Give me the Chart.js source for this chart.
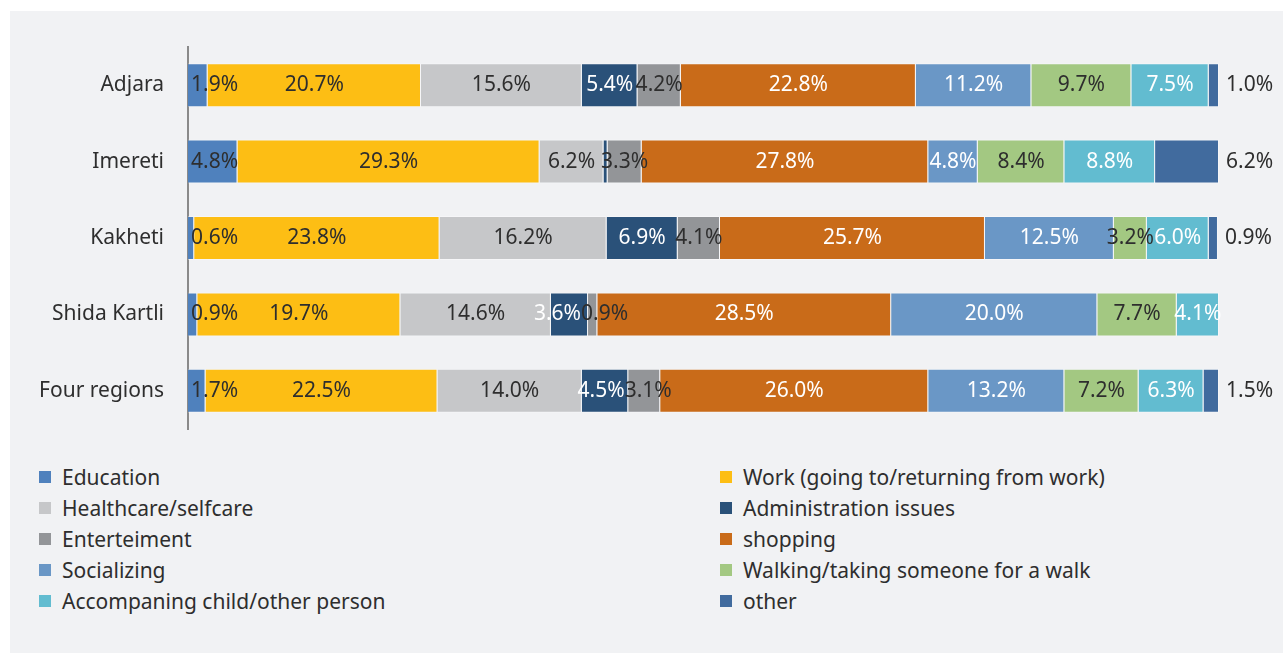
<!DOCTYPE html>
<html>
<head>
<meta charset="utf-8">
<script src="https://cdn.jsdelivr.net/npm/chart.js@4.4.1/dist/chart.umd.min.js"></script>
<style>
  html, body { margin: 0; padding: 0; background: #ffffff; }
  body { width: 1283px; height: 653px; position: relative; overflow: hidden; font-family: "Noto Sans", sans-serif; }
  #panel { position: absolute; left: 10px; top: 11px; right: 0; bottom: 0; background: #f1f2f4; }
  #chartBox { position: absolute; left: 10px; top: 11px; width: 1273px; height: 440px; }
  #legend { position: absolute; left: 39px; top: 461px; display: grid; grid-template-columns: 681px auto; grid-auto-rows: 31px; }
  .item { display: flex; align-items: center; font-size: 21px; color: #2e2e2e; white-space: nowrap; }
  .swatch { width: 12px; height: 12px; margin-right: 11px; flex: none; }
</style>
</head>
<body>
<div id="panel"></div>
<div id="chartBox"><canvas id="chart"></canvas></div>
<div id="legend"></div>
<script>
const categories = ['Adjara', 'Imereti', 'Kakheti', 'Shida Kartli', 'Four regions'];

const seriesNames = [
  'Education',
  'Work (going to/returning from work)',
  'Healthcare/selfcare',
  'Administration issues',
  'Enterteiment',
  'shopping',
  'Socializing',
  'Walking/taking someone for a walk',
  'Accompaning child/other person',
  'other'
];

// shares in %, one value per region
const education      = [1.9, 4.8, 0.6, 0.9, 1.7];
const work           = [20.7, 29.3, 23.8, 19.7, 22.5];
const healthcare     = [15.6, 6.2, 16.2, 14.6, 14.0];
const administration = [5.4, 0.4, 6.9, 3.6, 4.5];
const entertainment  = [4.2, 3.3, 4.1, 0.9, 3.1];
const shopping       = [22.8, 27.8, 25.7, 28.5, 26.0];
const socializing    = [11.2, 4.8, 12.5, 20.0, 13.2];
const walking        = [9.7, 8.4, 3.2, 7.7, 7.2];
const accompanying   = [7.5, 8.8, 6.0, 4.1, 6.3];
const other          = [1.0, 6.2, 0.9, 0, 1.5];

const seriesValues = [education, work, healthcare, administration, entertainment,
  shopping, socializing, walking, accompanying, other];

const colors = ['#4f81bd', '#fdbe14', '#c6c7c9', '#2a5179', '#939598',
  '#c96b19', '#6a97c6', '#a3c882', '#62bcd0', '#416b9e'];
const labelColors = ['#2e2e2e', '#2e2e2e', '#2e2e2e', '#ffffff', '#2e2e2e',
  '#ffffff', '#ffffff', '#2e2e2e', '#ffffff', '#2e2e2e'];

const FONT = '"Noto Sans", sans-serif';

// percent labels inside the segments, nudged apart when they collide
const segmentLabels = {
  id: 'segmentLabels',
  afterDatasetsDraw(chart) {
    const ctx = chart.ctx;
    const area = chart.chartArea;
    ctx.save();
    ctx.font = '21px ' + FONT;
    ctx.textBaseline = 'middle';
    ctx.textAlign = 'left';
    categories.forEach((cat, i) => {
      const boxes = [];
      chart.data.datasets.forEach((ds, d) => {
        const v = ds.data[i];
        if (!v || v < 0.5) return;
        const bar = chart.getDatasetMeta(d).data[i];
        const text = v.toFixed(1) + '%';
        const w = ctx.measureText(text).width;
        if (d === seriesValues.length - 1) {
          boxes.push({ text, left: bar.x + 7, w, y: bar.y, color: labelColors[d], fixed: true });
          return;
        }
        let left = (bar.base + bar.x) / 2 - w / 2;
        if (left < area.left + 3) left = area.left + 3;
        const prev = boxes[boxes.length - 1];
        if (prev && !prev.fixed && left < prev.left + prev.w) {
          const overlap = prev.left + prev.w - left;
          if (prev.left - overlap / 2 >= area.left) {
            prev.left -= overlap / 2;
            left += overlap / 2;
          } else {
            left += overlap;
          }
        }
        boxes.push({ text, left, w, y: bar.y, color: labelColors[d] });
      });
      boxes.forEach(b => {
        ctx.fillStyle = b.color;
        ctx.fillText(b.text, b.left, b.y);
      });
    });
    ctx.restore();
  }
};

const datasets = seriesNames.map((name, k) => ({
  label: name,
  data: seriesValues[k],
  backgroundColor: colors[k],
  borderColor: 'rgba(255,255,255,0.35)',
  borderWidth: 1,
  categoryPercentage: 1,
  barPercentage: 0.576
}));

new Chart(document.getElementById('chart'), {
  type: 'bar',
  data: { labels: categories, datasets },
  options: {
    indexAxis: 'y',
    responsive: true,
    maintainAspectRatio: false,
    animation: false,
    layout: { padding: { top: 36, right: 64, bottom: 22, left: 0 } },
    plugins: {
      legend: { display: false },
      tooltip: { enabled: false }
    },
    scales: {
      x: { stacked: true, display: false, min: 0, max: 100 },
      y: {
        stacked: true,
        grid: { display: false },
        border: { display: true, color: '#8a8a8a', width: 2 },
        ticks: { color: '#2e2e2e', padding: 16, font: { family: FONT, size: 21 } },
        afterFit(scale) {
          scale.width = 178;
          scale.paddingTop = 0;
          scale.paddingBottom = 0;
        }
      }
    }
  },
  plugins: [segmentLabels]
});

// two-column legend under the chart
const legend = document.getElementById('legend');
seriesNames.forEach((name, k) => {
  const item = document.createElement('div');
  item.className = 'item';
  const sw = document.createElement('span');
  sw.className = 'swatch';
  sw.style.background = colors[k];
  item.appendChild(sw);
  item.appendChild(document.createTextNode(name));
  legend.appendChild(item);
});
</script>
</body>
</html>
